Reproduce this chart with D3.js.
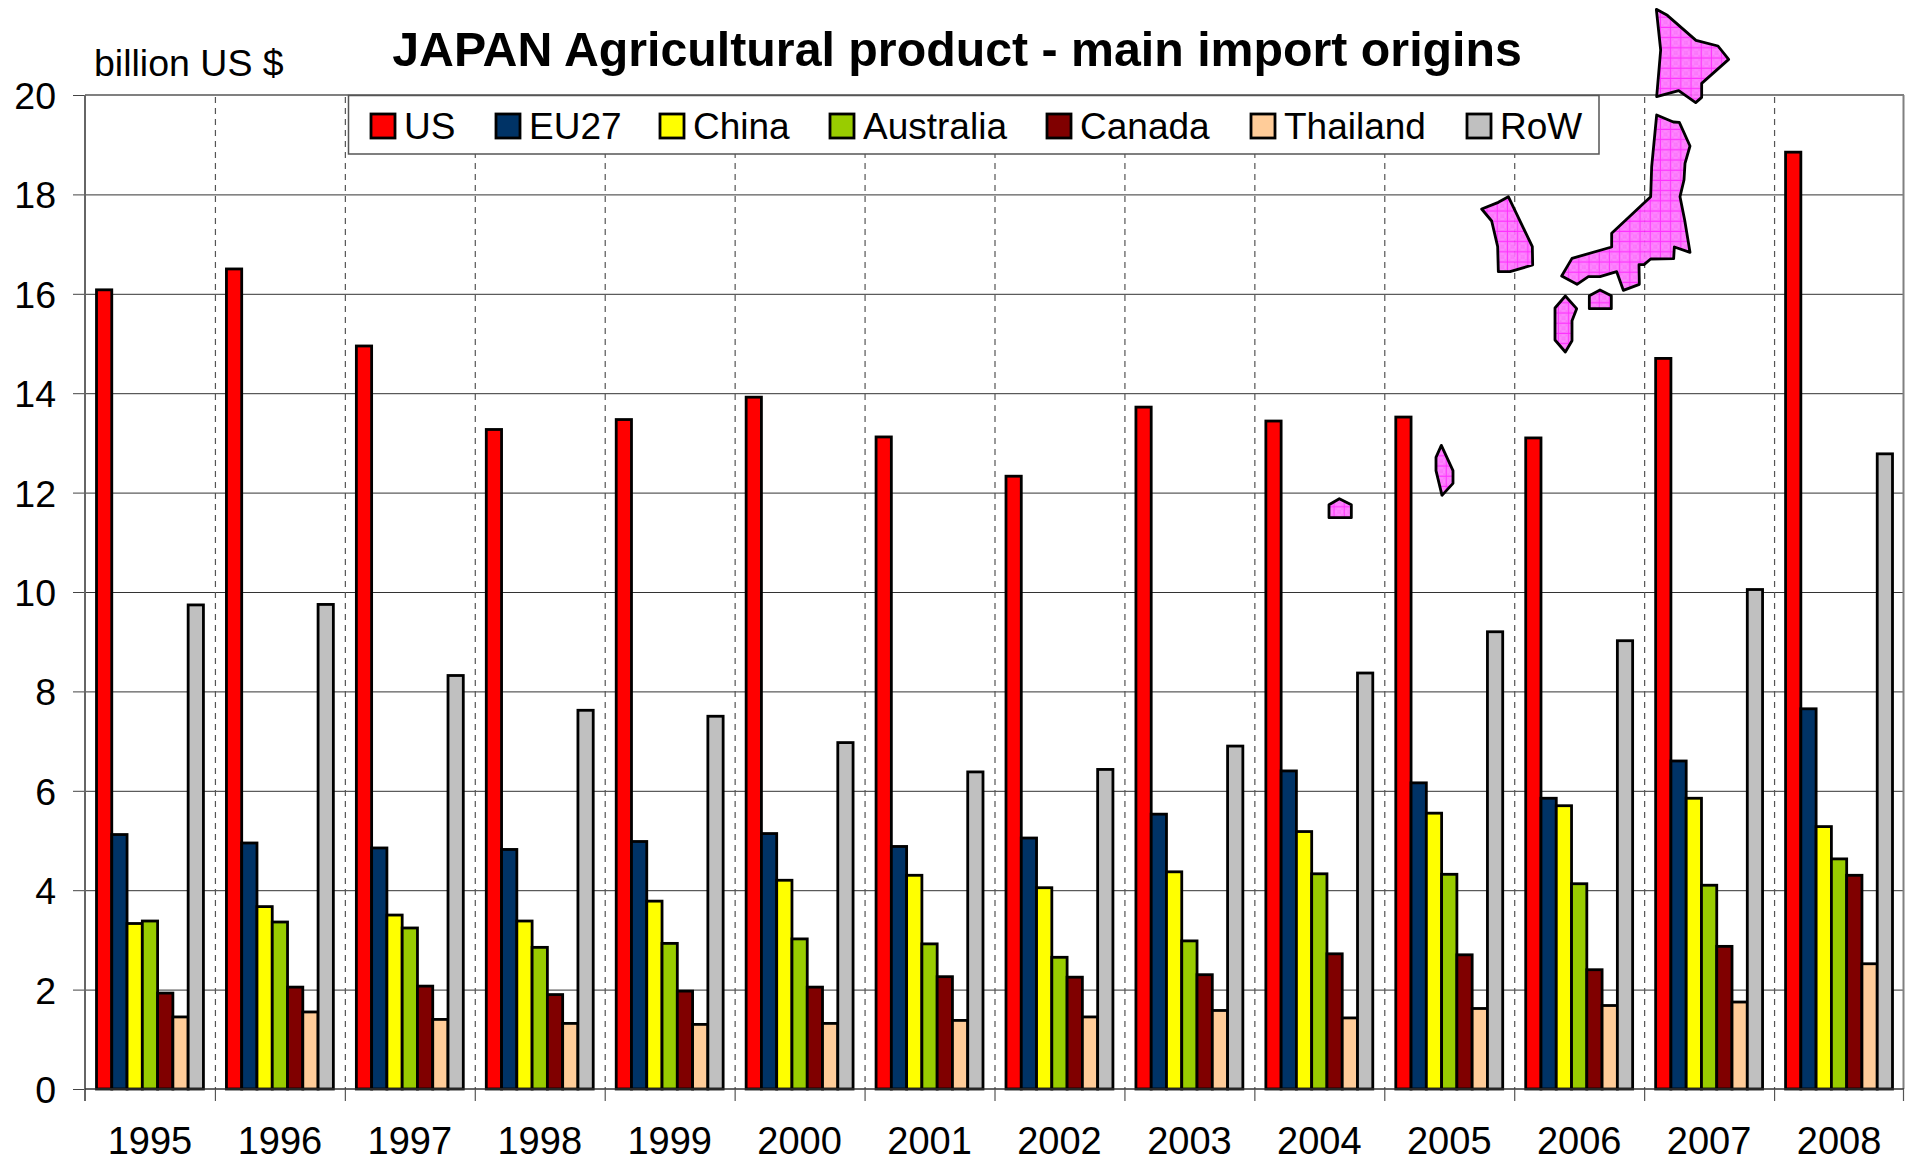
<!DOCTYPE html>
<html><head><meta charset="utf-8">
<script src="https://cdn.jsdelivr.net/npm/d3@7"></script>
<style>
html,body{margin:0;padding:0;background:#fff;overflow:hidden}
svg{display:block}
text{font-family:"Liberation Sans",Arial,sans-serif;fill:#000}
</style></head><body>
<script>
const years=["1995","1996","1997","1998","1999","2000","2001","2002","2003","2004","2005","2006","2007","2008"];
const seriesNames=["US","EU27","China","Australia","Canada","Thailand","RoW"];
const seriesColors=["#ff0000","#003366","#ffff00","#99cc00","#800000","#ffcc99","#c0c0c0"];
const US=[16.08,16.5,14.95,13.27,13.47,13.92,13.12,12.33,13.72,13.44,13.52,13.1,14.7,18.85];
const EU27=[5.12,4.95,4.85,4.82,4.98,5.14,4.88,5.05,5.53,6.4,6.16,5.85,6.6,7.65];
const China=[3.33,3.67,3.5,3.38,3.78,4.2,4.3,4.05,4.37,5.18,5.55,5.7,5.85,5.28];
const Australia=[3.38,3.36,3.24,2.85,2.93,3.02,2.92,2.65,2.98,4.33,4.32,4.13,4.1,4.63];
const Canada=[1.93,2.05,2.07,1.9,1.97,2.05,2.26,2.25,2.3,2.72,2.7,2.4,2.87,4.3];
const Thailand=[1.45,1.55,1.4,1.32,1.3,1.32,1.38,1.45,1.58,1.43,1.62,1.68,1.75,2.52];
const RoW=[9.74,9.75,8.32,7.62,7.5,6.97,6.38,6.43,6.9,8.37,9.2,9.02,10.05,12.78];
const seriesValues=[US,EU27,China,Australia,Canada,Thailand,RoW];
const yTicks=[0,2,4,6,8,10,12,14,16,18,20];
const titleText="JAPAN Agricultural product - main import origins";
const unitText="billion US $";

const W=1910,H=1164,L=85,R=1904,T=95,B=1089;
const svg=d3.select("body").append("svg").attr("width",W).attr("height",H);
const x=d3.scaleBand().domain(years).range([L,R]);
const x1=d3.scaleBand().domain(seriesNames).range([11.5,x.bandwidth()-11.5]);
const y=d3.scaleLinear().domain([0,20]).range([B,T]);
const color=d3.scaleOrdinal(seriesNames,seriesColors);

// hatch for the map decoration
const defs=svg.append("defs");
const fine=defs.append("pattern").attr("id","mapfill").attr("patternUnits","userSpaceOnUse")
  .attr("width",10.2).attr("height",10.2).attr("x",3).attr("y",2);
fine.append("rect").attr("width",10.2).attr("height",10.2).attr("fill","#ff7cff");
for(let i=0;i<5;i++)for(let j=0;j<5;j++) if((i+j)%2===0)
  fine.append("rect").attr("x",i*2).attr("y",j*2).attr("width",2).attr("height",2).attr("fill","#fa6afa");
fine.append("path").attr("d","M5 0V10.2M0 5H10.2").attr("stroke","#ff20ff").attr("stroke-width",1).attr("fill","none");

// horizontal gridlines and y axis
const gy=svg.append("g").attr("transform",`translate(${L},0)`)
  .call(d3.axisLeft(y).tickValues(yTicks).tickSize(12).tickPadding(17).tickFormat(d3.format("d")));
gy.select(".domain").remove();
gy.selectAll("line").attr("stroke","#444").attr("stroke-width",1);
gy.selectAll("text").attr("font-size",37.5).attr("dy","0.36em");
svg.append("g").selectAll("line").data(yTicks.filter(d=>d>0&&d<20)).join("line")
  .attr("x1",L).attr("x2",R).attr("y1",d=>y(d)+.5).attr("y2",d=>y(d)+.5)
  .attr("stroke","#333").attr("stroke-width",1);
svg.append("line").attr("x1",L).attr("x2",R).attr("y1",y(20)).attr("y2",y(20)).attr("stroke","#808080").attr("stroke-width",2);

// year separators
const edges=years.slice(1);
svg.append("g").selectAll("line").data(edges).join("line")
  .attr("x1",d=>x(d)+.5).attr("x2",d=>x(d)+.5).attr("y1",y(20)+2).attr("y2",B)
  .attr("stroke","#555").attr("stroke-width",1.2).attr("stroke-dasharray","6 5");

// bars
const groups=svg.append("g").selectAll("g").data(years).join("g")
  .attr("transform",d=>`translate(${x(d)},0)`);
groups.selectAll("rect").data((d,i)=>seriesNames.map((s,k)=>({s,v:seriesValues[k][i]}))).join("rect")
  .attr("x",d=>x1(d.s)).attr("width",x1.bandwidth())
  .attr("y",d=>y(d.v)).attr("height",d=>B-y(d.v))
  .attr("fill",d=>color(d.s)).attr("stroke","#000").attr("stroke-width",2.8);

// frame and x axis
svg.append("line").attr("x1",L).attr("x2",L).attr("y1",T).attr("y2",B+12).attr("stroke","#666").attr("stroke-width",2);
svg.append("line").attr("x1",R-.5).attr("x2",R-.5).attr("y1",T).attr("y2",B).attr("stroke","#808080").attr("stroke-width",2);
svg.append("line").attr("x1",L).attr("x2",R).attr("y1",B).attr("y2",B).attr("stroke","#333").attr("stroke-width",1.5);
svg.append("g").selectAll("line").data(edges).join("line")
  .attr("x1",d=>x(d)+.5).attr("x2",d=>x(d)+.5).attr("y1",B).attr("y2",B+12).attr("stroke","#555").attr("stroke-width",1.2);
svg.append("line").attr("x1",R-.5).attr("x2",R-.5).attr("y1",B).attr("y2",B+12).attr("stroke","#555").attr("stroke-width",1.2);
const gx=svg.append("g").attr("transform",`translate(0,${B})`)
  .call(d3.axisBottom(x).tickSize(0).tickPadding(65));
gx.select(".domain").remove();
gx.selectAll("text").attr("font-size",38).attr("dy",0);

// titles
svg.append("text").attr("x",957).attr("y",66).attr("text-anchor","middle").attr("font-weight","bold").attr("font-size",48.3).text(titleText);
svg.append("text").attr("x",94).attr("y",76).attr("font-size",37.5).text(unitText);

// legend
svg.append("rect").attr("x",348.5).attr("y",95.5).attr("width",1250.5).attr("height",58.5)
  .attr("fill","#fff").attr("stroke","#555").attr("stroke-width",1.5);
const legendX=[371,496,660,830,1047,1251,1467];
const leg=svg.append("g").selectAll("g").data(seriesNames).join("g")
  .attr("transform",(d,i)=>`translate(${legendX[i]},114)`);
leg.append("rect").attr("width",24).attr("height",24).attr("fill",d=>color(d)).attr("stroke","#000").attr("stroke-width",2.8);
leg.append("text").attr("x",33).attr("y",25).attr("font-size",37).text(d=>d);

// map of Japan (decorative)
const zoomToPage=p=>p.map(([a,b])=>[1440+a/3,b/3]);
const mapShapes=[
 [[649,28],[682,46],[768,121],[834,138],[866,178],[785,250],[785,292],[767,308],[716,272],[650,290],[662,150]],
 [[650,345],[700,366],[718,367],[750,438],[735,490],[732,540],[720,590],[734,660],[750,757],[703,741],[701,776],[632,777],[612,794],[597,794],[598,853],[550,871],[530,815],[480,830],[445,830],[411,853],[365,828],[396,775],[515,741],[515,700],[632,590],[635,500]],
 [[205,590],[277,740],[278,795],[210,815],[175,815],[173,740],[155,663],[125,627],[175,607]],
 [[376,888],[410,926],[396,962],[396,1022],[376,1056],[345,1020],[345,924]],
 [[480,870],[514,887],[514,926],[448,926],[448,887]]
];
const shapes=mapShapes.map(zoomToPage);
shapes.push([[1300+118/3,430+206/3],[1300+154/3,430+224/3],[1300+154/3,430+263/3],[1300+87/3,430+263/3],[1300+87/3,430+224/3]]);
shapes.push([[1300+424/3,430+46/3],[1300+459/3,430+122/3],[1300+459/3,430+160/3],[1300+426/3,430+196/3],[1300+408/3,430+122/3],[1300+408/3,430+82/3]]);
svg.append("g").selectAll("path").data(shapes).join("path")
  .attr("d",d=>d3.line()(d)+"Z").attr("fill","url(#mapfill)").attr("fill-opacity",.92)
  .attr("stroke","#000").attr("stroke-width",2.8).attr("stroke-linejoin","round");
</script>
</body></html>
